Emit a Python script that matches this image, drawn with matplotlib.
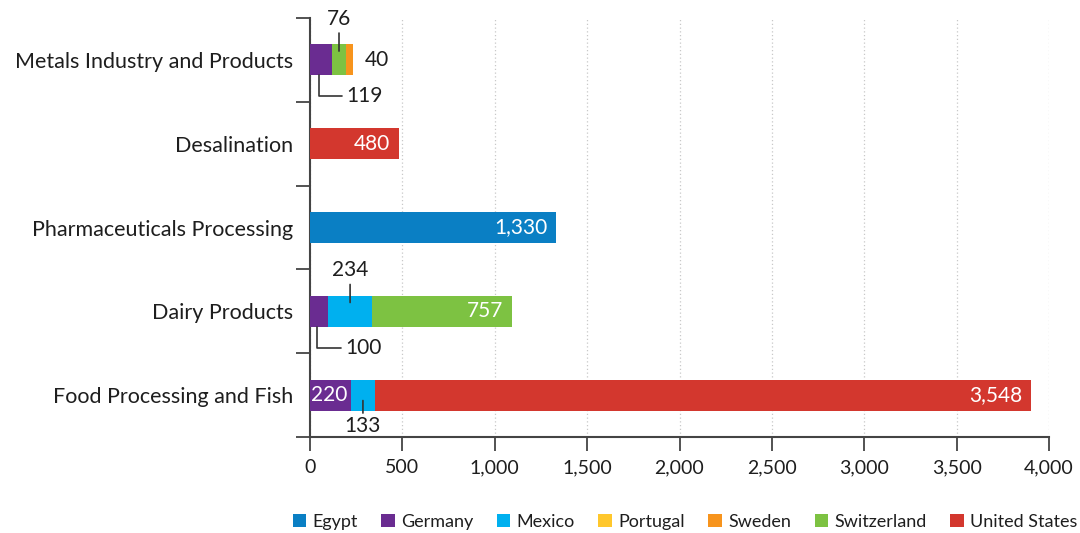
import numpy as np
import matplotlib
matplotlib.use('Agg')
import matplotlib.pyplot as plt
from matplotlib.patches import Patch

plt.rcParams['font.family'] = ['Lato', 'DejaVu Sans']

# industries, bottom to top
categories = ['Food Processing and Fish', 'Dairy Products', 'Pharmaceuticals Processing',
              'Desalination', 'Metals Industry and Products']

# capacity per country and industry
countries = ['Egypt', 'Germany', 'Mexico', 'Portugal', 'Sweden', 'Switzerland', 'United States']
egypt = [0, 0, 1330, 0, 0]
germany = [220, 100, 0, 0, 119]
mexico = [133, 234, 0, 0, 0]
portugal = [0, 0, 0, 0, 0]
sweden = [0, 0, 0, 0, 40]
switzerland = [0, 757, 0, 0, 76]
united_states = [3548, 0, 0, 480, 0]
series = dict(zip(countries, [egypt, germany, mexico, portugal, sweden, switzerland, united_states]))

colors = dict(zip(countries, ['#0a7fc4', '#6a2c91', '#00b0ef', '#ffc72c',
                              '#f7941d', '#7dc242', '#d3372e']))

# order the segments are stacked in, left to right
stack_order = ['Egypt', 'Germany', 'Mexico', 'Portugal', 'Switzerland', 'Sweden', 'United States']

# how each value label is placed: 'in' = white inside the bar,
# 'up'/'down' = leader line above/below, 'elbow' = bent leader, 'right' = beside the bar
label_style = {
    (0, 'Germany'): 'in_left', (0, 'Mexico'): 'down', (0, 'United States'): 'in',
    (1, 'Germany'): 'elbow', (1, 'Mexico'): 'up', (1, 'Switzerland'): 'in',
    (2, 'Egypt'): 'in', (3, 'United States'): 'in',
    (4, 'Germany'): 'elbow', (4, 'Switzerland'): 'up', (4, 'Sweden'): 'right',
}

ink = '#1e1e1e'
fig = plt.figure(figsize=(10.8, 5.33), dpi=100)
ax = fig.add_axes([310 / 1080, 1 - 437 / 533, 739 / 1080, 419 / 533])

y = np.arange(len(categories))
h = 0.37
left = np.zeros(len(categories))
for name in stack_order:
    vals = np.array(series[name], dtype=float)
    ax.barh(y, vals, height=h, left=left, color=colors[name], zorder=3)
    for i, v in enumerate(vals):
        style = label_style.get((i, name))
        if v == 0 or style is None:
            continue
        txt = '{:,}'.format(int(v))
        mid = left[i] + v / 2
        end = left[i] + v
        if style == 'in':
            ax.annotate(txt, (end, y[i]), xytext=(-6, 0), textcoords='offset points',
                        ha='right', va='center', color='white', fontsize=15, zorder=4)
        elif style == 'in_left':
            ax.annotate(txt, (left[i], y[i]), xytext=(1, 0), textcoords='offset points',
                        ha='left', va='center', color='white', fontsize=15, zorder=4)
        elif style == 'right':
            ax.annotate(txt, (end, y[i]), xytext=(8, 0), textcoords='offset points',
                        ha='left', va='center', color=ink, fontsize=15, zorder=4)
        elif style == 'up':
            ax.annotate(txt, (mid, y[i] + h / 2 - 0.08), xytext=(0, 16), textcoords='offset points',
                        ha='center', va='bottom', color=ink, fontsize=15, zorder=4,
                        arrowprops=dict(arrowstyle='-', color='#333333', lw=1.2,
                                        shrinkA=1, shrinkB=0))
        elif style == 'down':
            ax.annotate(txt, (mid, y[i] - h / 2 + 0.12), xytext=(0, -11), textcoords='offset points',
                        ha='center', va='top', color=ink, fontsize=15, zorder=4,
                        arrowprops=dict(arrowstyle='-', color='#333333', lw=1.2,
                                        shrinkA=0, shrinkB=0))
        elif style == 'elbow':
            ax.annotate(txt, (mid - v * 0.1, y[i] - h / 2), xytext=(20, -15), textcoords='offset points',
                        ha='left', va='center', color=ink, fontsize=15, zorder=4,
                        arrowprops=dict(arrowstyle='-', color='#333333', lw=1.2,
                                        connectionstyle='angle,angleA=0,angleB=90,rad=0',
                                        shrinkA=1, shrinkB=0))
    left += vals

ax.set_xlim(0, 4000)
ax.set_ylim(-0.5, len(categories) - 0.5)
ax.set_xticks(np.arange(0, 4001, 500))
ax.set_xticklabels(['{:,}'.format(t) for t in range(0, 4001, 500)], fontsize=14, color=ink)
ax.set_yticks(y)
ax.set_yticklabels(categories, fontsize=15.5, color=ink)
ax.set_yticks(np.arange(-0.5, len(categories)), minor=True)
ax.tick_params(axis='y', which='major', length=0, pad=12)
ax.tick_params(axis='y', which='minor', length=10, width=1.3, color='#444444')
ax.tick_params(axis='x', length=10, width=1.3, color='#444444', pad=6)

ax.grid(axis='x', linestyle=(0, (1, 2)), color='#c8c8c8', lw=0.9, zorder=0)
for s in ['top', 'right']:
    ax.spines[s].set_visible(False)
for s in ['left', 'bottom']:
    ax.spines[s].set_color('#444444')
    ax.spines[s].set_linewidth(1.5)

handles = [Patch(facecolor=colors[n], label=n) for n in countries]
fig.legend(handles=handles, loc='center', bbox_to_anchor=(685 / 1080, 1 - 522 / 533),
           ncol=7, frameon=False, fontsize=13, handlelength=0.75, handleheight=0.75,
           handletextpad=0.35, columnspacing=1.3, labelcolor=ink)

fig.savefig('out.png', dpi=100)
